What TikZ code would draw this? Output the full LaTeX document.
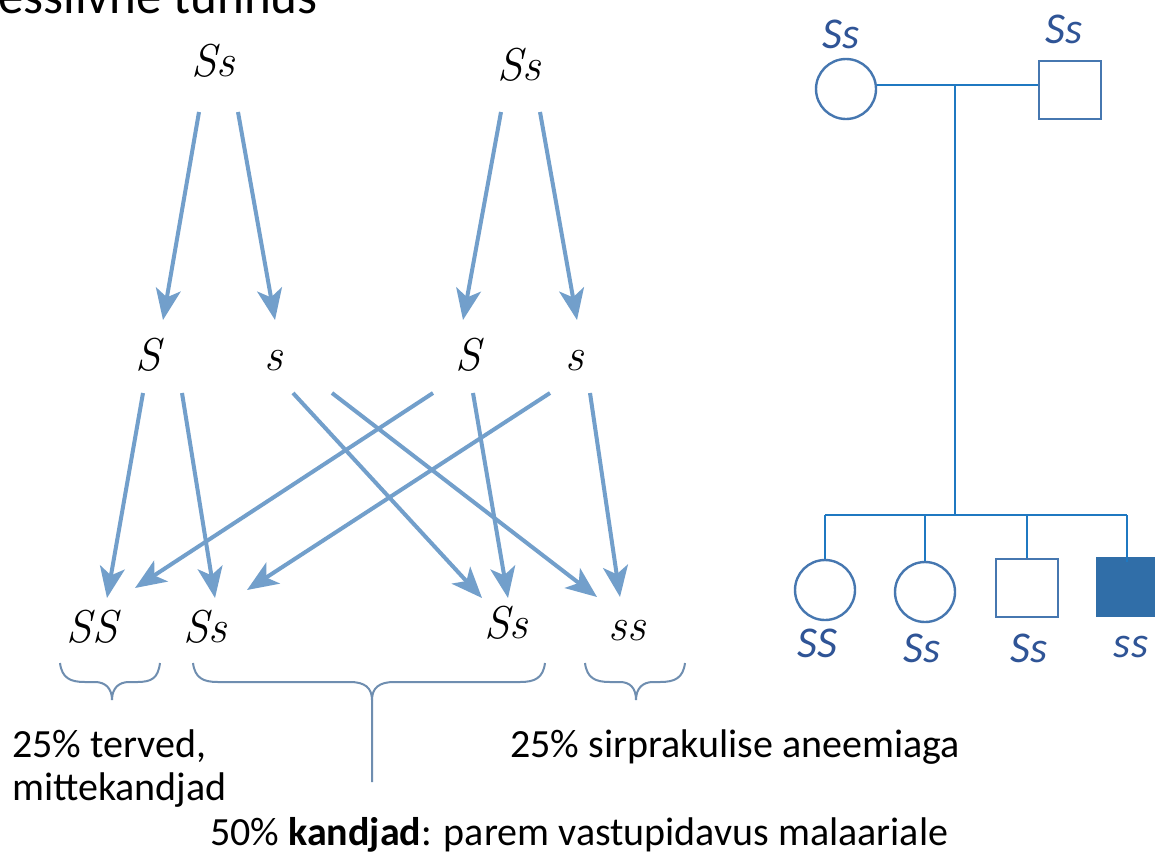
\documentclass[tikz,border=0pt]{standalone}
\usepackage{fontspec}
\newfontfamily\calfont{Carlito}
\usetikzlibrary{arrows.meta}
\definecolor{arrowblue}{HTML}{729FCB}
\definecolor{bracecol}{HTML}{6F8EB0}
\definecolor{pedline}{HTML}{1F78C1}
\definecolor{pedshape}{HTML}{4677B0}
\definecolor{pedfill}{HTML}{306EA8}
\definecolor{pedtext}{HTML}{2F5496}
\newcommand\genfont{\rmfamily\fontsize{46}{46}\selectfont\itshape\addfontfeature{FakeBold=1.5}}
\begin{document}
\begin{tikzpicture}[x=1pt,y=-1pt,
  gen/.style={font=\genfont, inner sep=0pt, anchor=base},
  arr/.style={draw=arrowblue, line width=4pt, -{Stealth[length=31pt,width=25pt,inset=8pt]}},
  ped/.style={font=\calfont\fontsize{44}{44}\selectfont\itshape, text=pedtext, inner sep=0pt, anchor=base},
  txt/.style={font=\calfont\fontsize{40}{46}\selectfont, inner sep=0pt, anchor=base west},
  brc/.style={draw=bracecol, line width=2pt},
  pline/.style={draw=pedline, line width=1.6pt},
  fem/.style={circle, draw=pedshape, line width=2.4pt, minimum size=60pt, inner sep=0pt},
  mal/.style={rectangle, draw=pedshape, line width=2.4pt, minimum width=62pt, minimum height=58pt, inner sep=0pt},
  aff/.style={rectangle, fill=pedfill, minimum width=62pt, minimum height=60pt, inner sep=0pt}]
\useasboundingbox (0,0) rectangle (1155,857);
\clip (0,0) rectangle (1155,857);
\fill[white] (0,0) rectangle (1155,857);

% title (cut off by the top edge, as in the reference)
\node[font=\calfont\fontsize{51}{51}\selectfont, inner sep=0pt, anchor=base east] (title) at (318,13) {essiivne tunnus};

% genotype labels
\node[gen] (P1) at (213,76) {Ss};
\node[gen] (P2) at (519,80) {Ss};
\node[gen] (G1) at (148,370) {S};
\node[gen] (G2) at (274,370) {s};
\node[gen] (G3) at (468,370) {S};
\node[gen] (G4) at (575,370) {s};
\node[gen] (C1) at (92,642) {SS};
\node[gen] (C2) at (205,642) {Ss};
\node[gen] (C3) at (506,638) {Ss};
\node[gen] (C4) at (627,640) {ss};

% arrow end points
\coordinate (p1a) at (199,112); \coordinate (g1t) at (163,320);
\coordinate (p1b) at (238,112); \coordinate (g2t) at (275,320);
\coordinate (p2a) at (501,112); \coordinate (g3t) at (463,320);
\coordinate (p2b) at (540,112); \coordinate (g4t) at (577,320);

\coordinate (g1a) at (143,393); \coordinate (g1b) at (182,393);
\coordinate (g2a) at (293,393); \coordinate (g2b) at (332,393);
\coordinate (g3a) at (433,393); \coordinate (g3b) at (473,393);
\coordinate (g4a) at (550,393); \coordinate (g4b) at (590,393);

\coordinate (c1a) at (107,598); \coordinate (c1b) at (135,588);
\coordinate (c2a) at (215,598); \coordinate (c2b) at (247,590);
\coordinate (c3a) at (482,598); \coordinate (c3b) at (508,598);
\coordinate (c4a) at (597,597); \coordinate (c4b) at (620,597);

\draw[arr] (p1a) -- (g1t);
\draw[arr] (p1b) -- (g2t);
\draw[arr] (p2a) -- (g3t);
\draw[arr] (p2b) -- (g4t);

\draw[arr] (g1a) -- (c1a);
\draw[arr] (g1b) -- (c2a);
\draw[arr] (g2a) -- (c3a);
\draw[arr] (g2b) -- (c4a);
\draw[arr] (g3a) -- (c1b);
\draw[arr] (g3b) -- (c3b);
\draw[arr] (g4a) -- (c2b);
\draw[arr] (g4b) -- (c4b);

% braces
\draw[brc] (60,663) .. controls (62,678) and (70,682) .. (85,682) -- (95,682)
  .. controls (105,682) and (112,688) .. (112,700)
  .. controls (112,688) and (119,682) .. (129,682) -- (137,682)
  .. controls (152,682) and (158,678) .. (160,663);
\draw[brc] (193,663) .. controls (195,678) and (203,682) .. (218,682) -- (350,682)
  .. controls (365,682) and (372,688) .. (372,700) -- (372,782);
\draw[brc] (372,700) .. controls (372,688) and (379,682) .. (394,682) -- (520,682)
  .. controls (535,682) and (543,678) .. (545,663);
\draw[brc] (585,663) .. controls (587,678) and (595,682) .. (610,682) -- (620,682)
  .. controls (630,682) and (636,688) .. (636,700)
  .. controls (636,688) and (643,682) .. (653,682) -- (660,682)
  .. controls (675,682) and (683,678) .. (685,663);

% texts
\node[txt] (t1) at (12,757) {25\% terved,};
\node[txt] (t2) at (12,800) {mittekandjad};
\node[txt] (t3) at (510,757) {25\% sirprakulise aneemiaga};
\node[txt] (t4) at (210,845) {50\% \textbf{kandjad}: parem vastupidavus malaariale};

% pedigree
\node[fem] (mother) at (846,89) {};
\node[mal] (father) at (1070,90) {};
\node[ped] (lm) at (841,48) {Ss};
\node[ped] (lf) at (1064,43) {Ss};

\node[fem] (k1) at (825,590) {};
\node[fem] (k2) at (925,592) {};
\node[mal] (k3) at (1027,588) {};
\node[aff] (k4) at (1127,587) {};

\node[ped] (l1) at (817,657) {SS};
\node[ped] (l2) at (922,662) {Ss};
\node[ped] (l3) at (1029,662) {Ss};
\node[ped] (l4) at (1131,657) {ss};

\coordinate (marr) at (955,85);
\coordinate (sib) at (955,515);
\draw[pline] (mother.east |- marr) -- (father.west |- marr);
\draw[pline] (marr) -- (sib);
\draw[pline] (k1.north |- sib) -- (k4.north |- sib);
\draw[pline] (k1.north |- sib) -- (k1.north);
\draw[pline] (k2.north |- sib) -- (k2.north);
\draw[pline] (k3.north |- sib) -- (k3.north);
\draw[pline] (k4.north |- sib) -- ([yshift=-5pt]k4.north);
\end{tikzpicture}
\end{document}
